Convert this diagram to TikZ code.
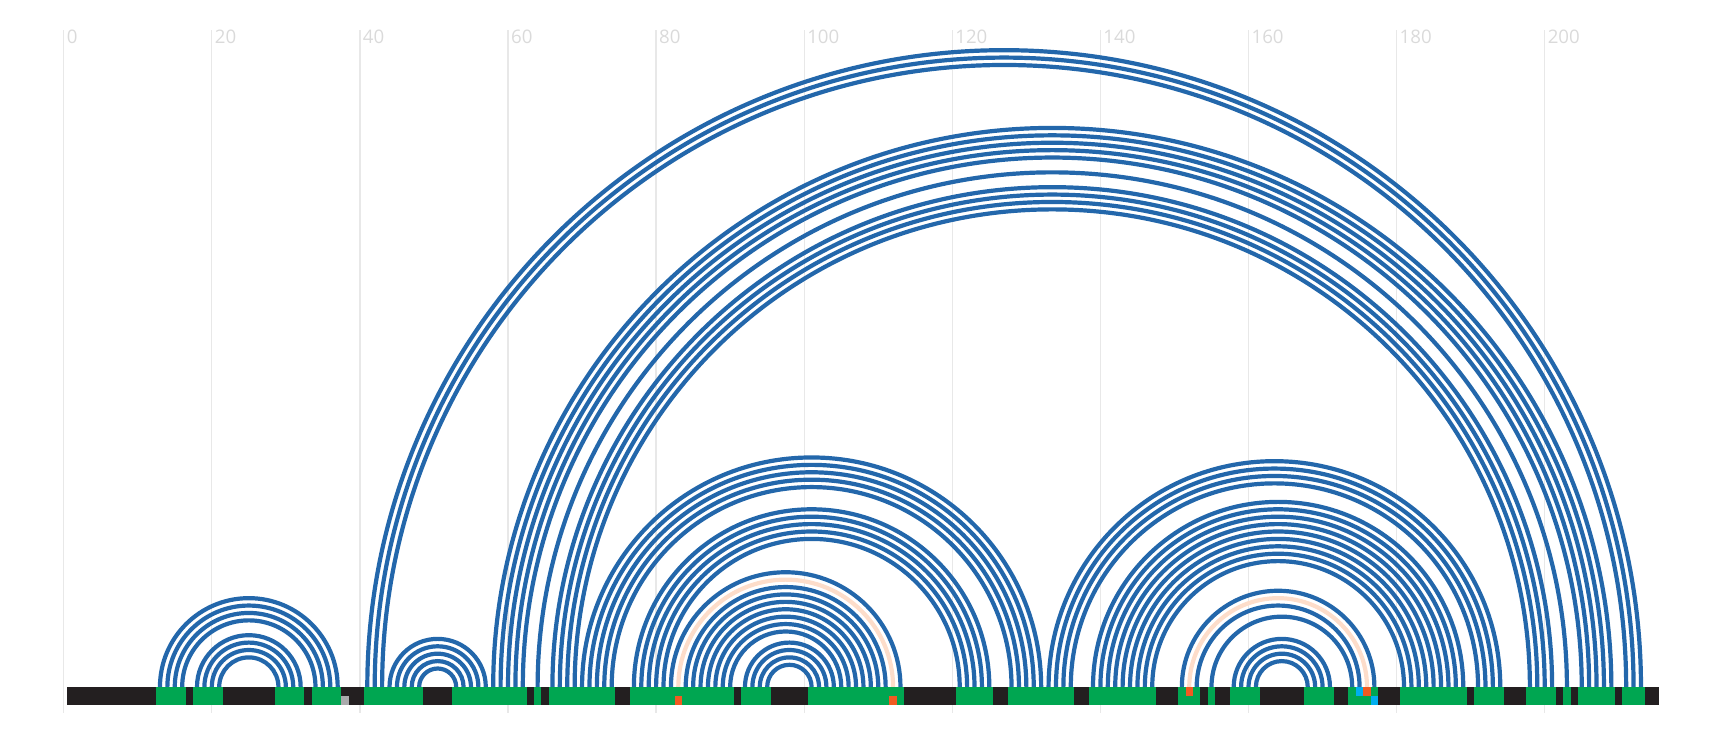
\documentclass[tikz,border=0pt]{standalone}
\usepackage{fontspec}
\usepackage{tikz}
\usepackage{xcolor}
\newfontfamily\axisfont{Open Sans}

\definecolor{arcblue}{RGB}{35,103,171}
\definecolor{arcpeach}{RGB}{253,221,202}
\definecolor{pairgreen}{RGB}{0,166,81}
\definecolor{barblack}{RGB}{35,31,32}
\definecolor{markorange}{RGB}{241,90,34}
\definecolor{markblue}{RGB}{0,174,239}
\definecolor{markgray}{RGB}{170,170,172}
\definecolor{gridgray}{RGB}{232,232,232}
\definecolor{labelgray}{RGB}{218,218,218}

\begin{document}
\begin{tikzpicture}[x=0.75pt,y=0.75pt,yscale=-1,xscale=1,
    pairarc/.style={draw=arcblue, line width=3.15pt},
    peacharc/.style={draw=arcpeach, line width=3.15pt},
    gridline/.style={draw=gridgray, line width=1pt},
    ticklabel/.style={anchor=north west, inner sep=0pt, text=labelgray, font=\axisfont\fontsize{14}{16}\selectfont}]
        \useasboundingbox (0,0) rectangle (1720,740);

        %Grid lines and axis labels
        \foreach \t in {0,20,...,200} {
            \draw [gridline] ({63.7+7.405*\t},30) -- ({63.7+7.405*\t},713);
            \node [ticklabel] (lab\t) at ({66.5+7.405*\t},30) {\t};
        }

        %Shape: Arcs (base pairs)
        \foreach \a/\b in {13/37,14/36,15/35,16/34,18/32,19/31,20/30,21/29,
                           41/213,42/212,43/211,
                           44/57,45/56,46/55,47/54,48/53,
                           58/209,59/208,60/207,61/206,62/205,64/203,66/201,67/200,68/199,69/198,
                           70/132,71/131,72/130,73/129,74/128,
                           77/125,78/124,79/123,80/122,81/121,
                           82/113,84/111,85/110,86/109,87/108,88/107,89/106,90/105,
                           92/104,93/103,94/102,95/101,
                           133/194,134/193,135/192,136/191,
                           139/189,140/188,141/187,142/186,143/185,144/184,145/183,146/182,147/181,
                           151/177,153/175,155/174,
                           158/171,159/170,160/169,161/168}
            \draw [pairarc] ({63.7+7.405*\a},687) arc [start angle=180, end angle=360, radius={3.7025*(\b-\a)}];
        %Shape: Arcs (highlighted pairs)
        \foreach \a/\b in {83/112,152/176}
            \draw [peacharc] ({63.7+7.405*\a},687) arc [start angle=180, end angle=360, radius={3.7025*(\b-\a)}];

        %Shape: Sequence bar
        \fill [barblack] ({63.7+7.405*0.5},687) rectangle ({63.7+7.405*215.5},705);
        \foreach \a/\b in {13/16,18/21,29/32,34/37,41/48,53/62,64/64,66/74,77/90,92/95,
                           101/113,121/125,128/136,139/147,151/153,155/155,158/161,168/171,
                           174/177,181/189,191/194,198/201,203/203,205/209,211/213}
            \fill [pairgreen] ({63.7+7.405*(\a-0.5)},687) rectangle ({63.7+7.405*(\b+0.5)},705);

        %Shape: Markers
        \foreach \p/\c in {38/markgray,83/markorange,112/markorange,177/markblue}
            \fill [\c] ({63.7+7.405*(\p-0.5)},696) rectangle ({63.7+7.405*(\p+0.5)},705);
        \foreach \p/\c in {152/markorange,175/markblue,176/markorange}
            \fill [\c] ({63.7+7.405*(\p-0.5)},687) rectangle ({63.7+7.405*(\p+0.5)},696);

\end{tikzpicture}
\end{document}
